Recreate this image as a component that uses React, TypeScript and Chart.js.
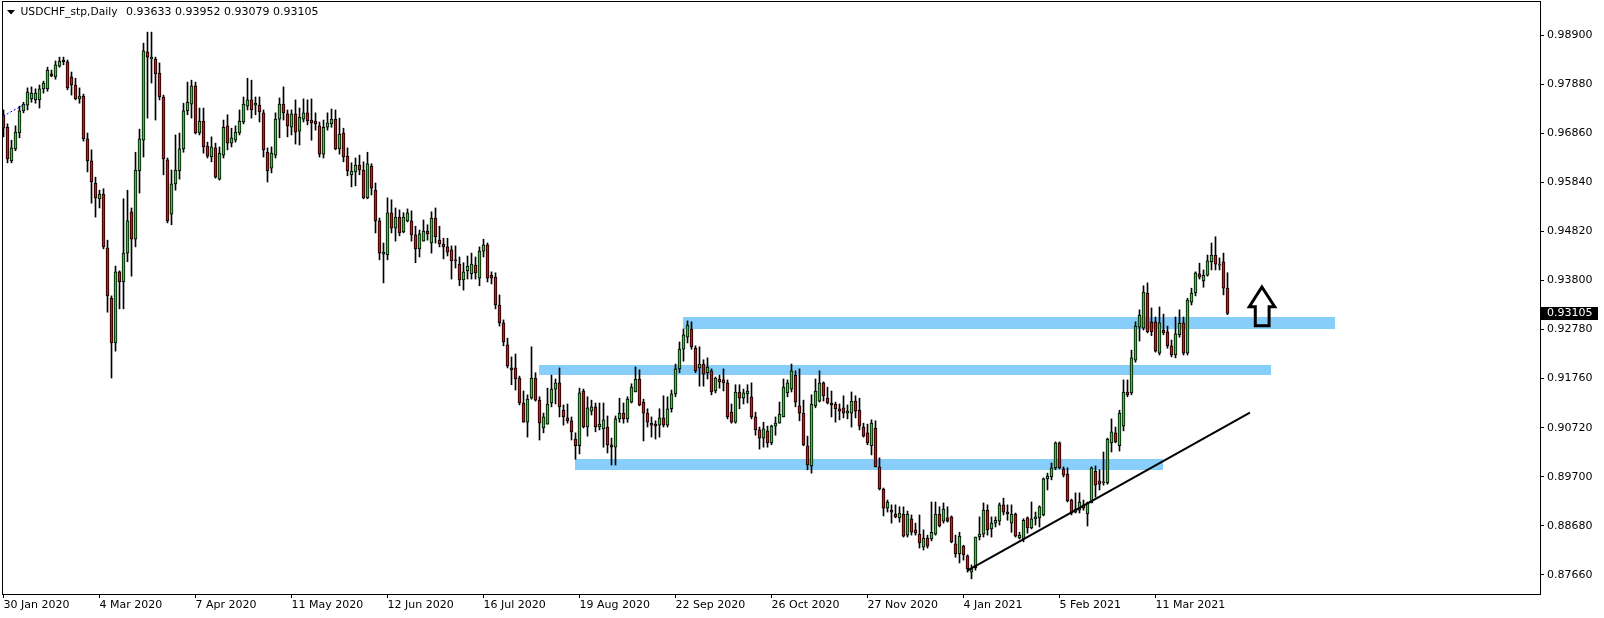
import React, { useEffect, useRef } from 'react';
import { Chart, registerables } from 'chart.js';

Chart.register(...registerables);

// Daily USDCHF candles, 30 Jan 2020 onward (one entry per trading day)
const opens = [
  .9724,.9698,.9628,.9653,.9686,.9732,.9744,.9757,.9755,.9755,
  .9778,.9778,.9809,.9803,.9825,.9838,.9834,.9803,.9786,.9757,
  .9763,.9674,.9628,.9582,.9549,.9559,.9447,.9342,.9249,.9397,
  .9376,.9436,.9522,.9465,.9607,.9671,.9855,.9840,.9840,.9811,
  .9761,.9630,.9517,.9580,.9607,.9653,.9732,.9746,.9784,.9686,
  .9711,.9659,.9636,.9655,.9590,.9640,.9701,.9665,.9671,.9686,
  .9709,.9742,.9755,.9744,.9744,.9728,.9646,.9613,.9640,.9715,
  .9746,.9726,.9698,.9726,.9690,.9715,.9728,.9713,.9711,.9701,
  .9642,.9698,.9705,.9715,.9653,.9686,.9638,.9599,.9605,.9619,
  .9609,.9551,.9617,.9567,.9503,.9434,.9432,.9520,.9488,.9511,
  .9480,.9503,.9503,.9474,.9445,.9461,.9482,.9457,.9509,.9463,
  .9455,.9449,.9443,.9422,.9413,.9380,.9399,.9393,.9411,.9384,
  .9440,.9453,.9390,.9386,.9328,.9291,.9245,.9197,.9197,.9176,
  .9124,.9084,.9134,.9176,.9130,.9072,.9080,.9124,.9153,.9166,
  .9109,.9093,.9087,.9049,.9035,.9149,.9074,.9107,.9116,.9074,
  .9070,.9074,.9037,.9032,.9091,.9103,.9091,.9126,.9147,.9174,
  .9126,.9103,.9082,.9080,.9078,.9093,.9078,.9112,.9143,.9195,
  .9236,.9261,.9278,.9238,.9197,.9205,.9187,.9191,.9149,.9174,
  .9172,.9166,.9105,.9084,.9147,.9134,.9143,.9137,.9095,.9068,
  .9051,.9066,.9041,.9076,.9082,.9095,.9145,.9153,.9182,.9118,
  .9103,.9035,.8993,.9118,.9128,.9166,.9134,.9124,.9122,.9112,
  .9114,.9103,.9103,.9128,.9109,.9074,.9062,.9035,.9072,.8991,
  .8945,.8905,.8901,.8893,.8885,.8893,.8849,.8883,.8860,.8851,
  .8824,.8843,.8841,.8851,.8893,.8878,.8885,.8887,.8831,.8810,
  .8826,.8806,.8772,.8781,.8845,.8851,.8901,.8862,.8874,.8878,
  .8912,.8897,.8874,.8893,.8843,.8841,.8885,.8864,.8883,.8885,
  .8891,.8966,.8970,.8989,.9041,.8987,.8976,.8922,.8897,.8901,
  .8912,.8893,.8916,.8982,.8962,.8958,.8958,.9041,.9062,.9035,
  .9076,.9147,.9145,.9213,.9282,.9280,.9353,.9293,.9293,.9228,
  .9276,.9272,.9243,.9224,.9266,.9291,.9228,.9334,.9353,.9393,
  .9378,.9390,.9418,.9432,.9411,.9418,.93633,
];

const highs = [
  .9734,.9705,.9671,.9701,.9742,.9750,.9780,.9782,.9778,.9786,
  .9794,.9823,.9817,.9836,.9844,.9844,.9838,.9813,.9800,.9780,
  .9767,.9686,.9651,.9594,.9567,.9570,.9463,.9347,.9409,.9399,
  .9549,.9567,.9530,.9646,.9694,.9873,.9896,.9896,.9844,.9832,
  .9765,.9634,.9609,.9682,.9686,.9748,.9792,.9796,.9792,.9738,
  .9738,.9667,.9678,.9665,.9657,.9713,.9724,.9696,.9701,.9734,
  .9761,.9800,.9796,.9761,.9761,.9734,.9655,.9657,.9728,.9759,
  .9782,.9734,.9734,.9755,.9738,.9757,.9755,.9757,.9728,.9709,
  .9713,.9728,.9736,.9734,.9717,.9696,.9655,.9624,.9634,.9640,
  .9626,.9646,.9622,.9582,.9509,.9457,.9551,.9547,.9530,.9526,
  .9520,.9528,.9524,.9492,.9484,.9505,.9495,.9522,.9530,.9492,
  .9467,.9467,.9451,.9451,.9428,.9416,.9430,.9436,.9428,.9449,
  .9465,.9457,.9397,.9395,.9349,.9297,.9259,.9220,.9226,.9180,
  .9149,.9141,.9241,.9187,.9137,.9103,.9155,.9182,.9174,.9197,
  .9120,.9122,.9095,.9062,.9155,.9153,.9137,.9130,.9124,.9124,
  .9124,.9097,.9051,.9097,.9134,.9124,.9137,.9164,.9199,.9193,
  .9132,.9112,.9095,.9087,.9112,.9139,.9137,.9151,.9205,.9251,
  .9278,.9295,.9293,.9243,.9241,.9214,.9218,.9195,.9178,.9182,
  .9195,.9172,.9122,.9162,.9162,.9153,.9162,.9166,.9105,.9074,
  .9084,.9076,.9078,.9095,.9126,.9174,.9172,.9205,.9191,.9195,
  .9130,.9055,.9141,.9174,.9191,.9168,.9157,.9149,.9126,.9122,
  .9139,.9120,.9147,.9139,.9134,.9082,.9080,.9089,.9087,.9010,
  .8947,.8922,.8912,.8912,.8908,.8908,.8899,.8891,.8874,.8891,
  .8860,.8849,.8918,.8918,.8908,.8916,.8908,.8889,.8849,.8855,
  .8828,.8808,.8787,.8845,.8887,.8916,.8912,.8887,.8887,.8916,
  .8926,.8912,.8912,.8895,.8855,.8883,.8887,.8918,.8897,.8910,
  .8968,.8978,.8999,.9043,.9043,.8991,.8989,.8924,.8937,.8937,
  .8922,.8918,.8991,.8993,.8985,.9022,.9051,.9091,.9074,.9109,
  .9172,.9172,.9234,.9293,.9318,.9368,.9374,.9322,.9303,.9324,
  .9309,.9284,.9255,.9303,.9318,.9303,.9342,.9363,.9397,.9415,
  .9401,.9432,.9457,.9470,.9426,.9436,.93952,
];

const lows = [
  .9678,.9624,.9624,.9649,.9676,.9728,.9734,.9750,.9748,.9738,
  .9769,.9773,.9803,.9798,.9823,.9828,.9776,.9765,.9755,.9748,
  .9669,.9605,.9540,.9511,.9530,.9445,.9313,.9176,.9232,.9320,
  .9320,.9418,.9388,.9449,.9561,.9636,.9717,.9790,.9713,.9755,
  .9599,.9499,.9495,.9567,.9590,.9646,.9724,.9717,.9684,.9682,
  .9644,.9634,.9626,.9592,.9588,.9634,.9651,.9657,.9667,.9682,
  .9705,.9734,.9717,.9724,.9709,.9636,.9584,.9603,.9634,.9676,
  .9713,.9678,.9682,.9663,.9661,.9709,.9703,.9671,.9692,.9636,
  .9634,.9692,.9698,.9651,.9642,.9626,.9597,.9574,.9576,.9599,
  .9549,.9549,.9557,.9478,.9422,.9374,.9422,.9478,.9461,.9472,
  .9478,.9501,.9461,.9416,.9428,.9461,.9463,.9436,.9457,.9449,
  .9424,.9430,.9382,.9405,.9368,.9359,.9382,.9382,.9382,.9368,
  .9428,.9376,.9372,.9320,.9284,.9243,.9197,.9162,.9151,.9120,
  .9084,.9053,.9132,.9128,.9047,.9062,.9080,.9116,.9122,.9095,
  .9078,.9082,.9047,.9007,.9018,.9072,.9055,.9099,.9064,.9068,
  .9032,.9020,.8995,.8995,.9084,.9082,.9084,.9124,.9147,.9118,
  .9045,.9074,.9053,.9049,.9053,.9074,.9074,.9105,.9137,.9187,
  .9211,.9249,.9236,.9187,.9159,.9159,.9174,.9141,.9145,.9155,
  .9149,.9091,.9082,.9082,.9112,.9122,.9124,.9091,.9057,.9028,
  .9032,.9032,.9037,.9057,.9082,.9095,.9137,.9147,.9116,.9087,
  .9035,.8985,.8978,.9114,.9126,.9128,.9122,.9095,.9084,.9089,
  .9093,.9091,.9074,.9093,.9068,.9053,.9037,.9016,.8991,.8943,
  .8889,.8897,.8874,.8885,.8876,.8845,.8845,.8849,.8849,.8822,
  .8818,.8822,.8837,.8849,.8866,.8874,.8876,.8833,.8803,.8791,
  .8797,.8772,.8758,.8776,.8839,.8845,.8849,.8845,.8866,.8870,
  .8891,.8880,.8855,.8845,.8841,.8835,.8853,.8862,.8870,.8866,
  .8889,.8943,.8964,.8985,.8987,.8970,.8918,.8891,.8895,.8895,
  .8901,.8868,.8916,.8928,.8943,.8953,.8955,.9022,.9041,.9024,
  .9066,.9137,.9141,.9209,.9253,.9276,.9270,.9264,.9230,.9224,
  .9266,.9238,.9220,.9218,.9261,.9224,.9224,.9328,.9347,.9382,
  .9365,.9388,.9401,.9401,.9401,.9349,.93079,
];

const closes = [
  .9696,.9632,.9655,.9688,.9732,.9746,.9771,.9769,.9769,.9778,
  .9790,.9817,.9805,.9828,.9836,.9834,.9780,.9786,.9757,.9763,
  .9674,.9628,.9584,.9551,.9559,.9449,.9347,.9249,.9397,.9376,
  .9436,.9503,.9465,.9609,.9674,.9857,.9844,.9844,.9809,.9761,
  .9632,.9503,.9580,.9609,.9653,.9732,.9750,.9784,.9686,.9711,
  .9657,.9638,.9657,.9594,.9644,.9698,.9665,.9676,.9688,.9711,
  .9746,.9755,.9734,.9748,.9730,.9651,.9607,.9644,.9715,.9746,
  .9728,.9701,.9726,.9688,.9719,.9728,.9711,.9707,.9705,.9642,
  .9698,.9707,.9715,.9653,.9684,.9636,.9607,.9607,.9619,.9609,
  .9551,.9622,.9571,.9503,.9436,.9438,.9520,.9488,.9511,.9478,
  .9511,.9520,.9474,.9445,.9476,.9482,.9476,.9509,.9470,.9455,
  .9449,.9438,.9420,.9420,.9380,.9397,.9409,.9413,.9395,.9440,
  .9453,.9384,.9384,.9328,.9291,.9251,.9201,.9193,.9174,.9124,
  .9084,.9132,.9176,.9130,.9082,.9095,.9122,.9153,.9166,.9116,
  .9095,.9087,.9064,.9035,.9145,.9074,.9114,.9116,.9074,.9080,
  .9089,.9037,.9032,.9091,.9103,.9091,.9132,.9157,.9174,.9120,
  .9103,.9084,.9078,.9076,.9093,.9078,.9112,.9143,.9195,.9236,
  .9266,.9286,.9241,.9191,.9205,.9184,.9199,.9147,.9176,.9168,
  .9166,.9095,.9084,.9147,.9134,.9145,.9149,.9095,.9068,.9051,
  .9070,.9041,.9076,.9082,.9101,.9157,.9166,.9191,.9126,.9103,
  .9037,.8995,.9122,.9149,.9166,.9139,.9124,.9120,.9112,.9107,
  .9103,.9107,.9128,.9107,.9076,.9055,.9041,.9082,.8991,.8945,
  .8905,.8918,.8897,.8887,.8895,.8847,.8893,.8855,.8853,.8833,
  .8843,.8826,.8855,.8893,.8868,.8903,.8878,.8835,.8810,.8847,
  .8808,.8779,.8779,.8845,.8851,.8901,.8860,.8874,.8880,.8912,
  .8897,.8893,.8893,.8847,.8849,.8880,.8864,.8883,.8887,.8908,
  .8966,.8972,.8989,.9041,.8989,.8974,.8920,.8895,.8903,.8918,
  .8905,.8916,.8989,.8953,.8955,.8960,.9049,.9064,.9043,.9103,
  .9147,.9141,.9218,.9284,.9307,.9355,.9272,.9272,.9232,.9291,
  .9270,.9243,.9224,.9268,.9290,.9228,.9338,.9353,.9395,.9386,
  .9390,.9420,.9432,.9413,.9413,.9363,.93105,
];

const symbolTitle = 'USDCHF_stp,Daily';

const dateLabels = [
  '30 Jan 2020', '4 Mar 2020', '7 Apr 2020', '11 May 2020', '12 Jun 2020', '16 Jul 2020',
  '19 Aug 2020', '22 Sep 2020', '26 Oct 2020', '27 Nov 2020', '4 Jan 2021', '5 Feb 2021', '11 Mar 2021',
];
const dateTickBars = [0, 24, 48, 72, 96, 120, 144, 168, 192, 216, 240, 264, 288];

const priceTicks = [0.989, 0.9788, 0.9686, 0.9584, 0.9482, 0.938, 0.9278, 0.9176, 0.9072, 0.897, 0.8868, 0.8766];

// Support / resistance zones (bar index range, price range)
const zoneStart = [169.9, 133.9, 142.9];
const zoneEnd = [332.9, 316.75, 289.9];
const zoneHigh = [0.9303, 0.92031, 0.90074];
const zoneLow = [0.9278, 0.91823, 0.89845];

// Rising trend line
const trendBars = [240.95, 311.6];
const trendPrices = [0.87749, 0.91038];

// Up arrow outline
const arrowBars = [314.6, 317.8, 316.4, 316.4, 312.95, 312.95, 311.45];
const arrowPrices = [0.93655, 0.93245, 0.93245, 0.92849, 0.92849, 0.93245, 0.93245];

// Small dashed guide at the far left
const guideBars = [-0.05, 4.95];
const guidePrices = [0.97214, 0.97443];

const X_MIN = -0.375;
const X_MAX = 384.125;
const Y_MIN = 0.872644;
const Y_MAX = 0.99608;

const FONT = '"DejaVu Sans", sans-serif';

export default function App() {
  const ref = useRef<HTMLCanvasElement>(null);

  useEffect(() => {
    const canvas = ref.current;
    if (!canvas) return;
    const idx = closes.map((_, i) => i);
    const up = '#32cd32';
    const down = '#dd1111';

    const overlay = {
      id: 'overlay',
      beforeDatasetsDraw(chart: any) {
        const { ctx, chartArea: a, scales } = chart;
        const x = scales.x, y = scales.y;
        ctx.save();
        ctx.beginPath();
        ctx.rect(a.left, a.top, a.right - a.left, a.bottom - a.top);
        ctx.clip();
        ctx.fillStyle = '#87cefa';
        for (let k = 0; k < zoneStart.length; k++) {
          const x0 = Math.round(x.getPixelForValue(zoneStart[k]));
          const x1 = Math.round(x.getPixelForValue(zoneEnd[k]));
          const y0 = Math.round(y.getPixelForValue(zoneHigh[k]));
          const y1 = Math.round(y.getPixelForValue(zoneLow[k]));
          ctx.fillRect(x0, y0, x1 - x0, y1 - y0);
        }
        ctx.restore();
      },
      afterDatasetsDraw(chart: any) {
        const { ctx, chartArea: a, scales } = chart;
        const x = scales.x, y = scales.y;
        ctx.save();
        ctx.beginPath();
        ctx.rect(a.left, a.top, a.right - a.left, a.bottom - a.top);
        ctx.clip();

        ctx.strokeStyle = '#0000ff';
        ctx.lineWidth = 1;
        ctx.setLineDash([2, 2]);
        ctx.beginPath();
        ctx.moveTo(x.getPixelForValue(guideBars[0]), y.getPixelForValue(guidePrices[0]));
        ctx.lineTo(x.getPixelForValue(guideBars[1]), y.getPixelForValue(guidePrices[1]));
        ctx.stroke();
        ctx.setLineDash([]);

        ctx.strokeStyle = '#000';
        ctx.lineWidth = 2;
        ctx.beginPath();
        ctx.moveTo(x.getPixelForValue(trendBars[0]), y.getPixelForValue(trendPrices[0]));
        ctx.lineTo(x.getPixelForValue(trendBars[1]), y.getPixelForValue(trendPrices[1]));
        ctx.stroke();

        ctx.lineWidth = 3;
        ctx.lineJoin = 'miter';
        ctx.beginPath();
        arrowBars.forEach((b, k) => {
          const px = x.getPixelForValue(b);
          const py = y.getPixelForValue(arrowPrices[k]);
          if (k === 0) ctx.moveTo(px, py);
          else ctx.lineTo(px, py);
        });
        ctx.closePath();
        ctx.stroke();
        ctx.restore();
      },
      afterDraw(chart: any) {
        const { ctx, chartArea: a, scales } = chart;
        const y = scales.y;
        const last = closes.length - 1;
        ctx.save();
        ctx.strokeStyle = '#000';
        ctx.lineWidth = 1;
        ctx.strokeRect(a.left + 0.5, a.top + 0.5, a.right - a.left, a.bottom - a.top);

        ctx.fillStyle = '#000';
        ctx.beginPath();
        ctx.moveTo(7, 10);
        ctx.lineTo(15, 10);
        ctx.lineTo(11, 14.5);
        ctx.closePath();
        ctx.fill();

        ctx.font = '11px ' + FONT;
        ctx.textBaseline = 'middle';
        ctx.textAlign = 'left';
        ctx.fillText(symbolTitle, 20.5, 12.5, 97);
        const vals = [opens[last], highs[last], lows[last], closes[last]].map((v) => v.toFixed(5)).join(' ');
        ctx.fillText(vals, 126, 12.5);

        const py = Math.round(y.getPixelForValue(closes[last]));
        ctx.fillStyle = '#000';
        ctx.fillRect(a.right + 1, py - 6, 57, 13);
        ctx.fillStyle = '#fff';
        ctx.fillText(closes[last].toFixed(5), a.right + 7, py + 0.5);
        ctx.restore();
      },
    };

    const chart = new Chart(canvas, {
      type: 'bar',
      data: {
        datasets: [
          {
            label: 'body',
            data: idx.map((i) => ({ x: i, y: [opens[i], closes[i]] })) as any,
            backgroundColor: idx.map((i) => (closes[i] >= opens[i] ? up : down)),
            borderColor: '#000',
            borderWidth: 1,
            borderSkipped: false,
            barThickness: 3,
            minBarLength: 1,
            grouped: false,
            order: 0,
          } as any,
          {
            label: 'wick',
            data: idx.map((i) => ({ x: i, y: [lows[i], highs[i]] })) as any,
            backgroundColor: '#000',
            borderWidth: 0,
            barThickness: 1,
            grouped: false,
            order: 1,
          } as any,
        ],
      },
      options: {
        responsive: false,
        animation: false,
        devicePixelRatio: 1,
        events: [],
        layout: { padding: { left: 2, top: 1, right: 0, bottom: 0 } },
        plugins: {
          legend: { display: false },
          tooltip: { enabled: false },
          title: { display: false },
        },
        scales: {
          x: {
            type: 'linear',
            position: 'bottom',
            min: X_MIN,
            max: X_MAX,
            offset: false,
            afterBuildTicks: (s: any) => {
              s.ticks = dateTickBars.map((v) => ({ value: v }));
            },
            afterFit: (s: any) => {
              s.height = 24;
              s.paddingLeft = 0;
              s.paddingRight = 0;
            },
            grid: { display: true, drawOnChartArea: false, drawTicks: true, tickLength: 4, color: '#000', offset: false },
            border: { display: false },
            ticks: {
              autoSkip: false,
              maxRotation: 0,
              minRotation: 0,
              align: 'start',
              padding: 1,
              color: '#000',
              font: { family: FONT, size: 11 },
              callback: (v: any) => {
                const k = dateTickBars.indexOf(Number(v));
                return k >= 0 ? dateLabels[k] : '';
              },
            },
          } as any,
          y: {
            type: 'linear',
            position: 'right',
            min: Y_MIN,
            max: Y_MAX,
            afterBuildTicks: (s: any) => {
              s.ticks = priceTicks.map((v) => ({ value: v }));
            },
            afterFit: (s: any) => {
              s.width = 64;
              s.paddingTop = 0;
              s.paddingBottom = 0;
            },
            grid: { display: true, drawOnChartArea: false, drawTicks: true, tickLength: 4, color: '#000' },
            border: { display: false },
            ticks: {
              autoSkip: false,
              padding: 3,
              color: '#000',
              font: { family: FONT, size: 11 },
              callback: (v: any) => Number(v).toFixed(5),
            },
          } as any,
        },
      },
      plugins: [overlay],
    });

    return () => chart.destroy();
  }, []);

  return (
    <canvas
      ref={ref}
      width={1604}
      height={618}
      style={{ position: 'fixed', left: 0, top: 0, width: 1604, height: 618, display: 'block', background: '#fff' }}
    />
  );
}
